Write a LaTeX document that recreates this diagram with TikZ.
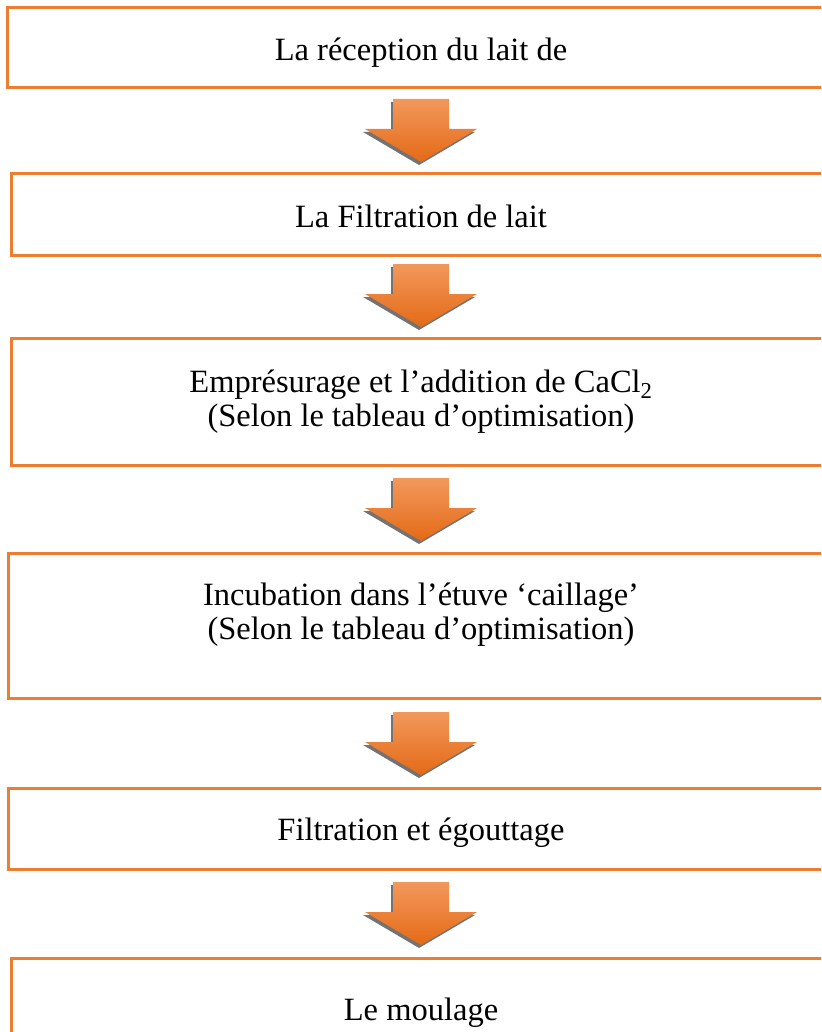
\documentclass[tikz,border=0pt]{standalone}
\usepackage{fontspec}
\setmainfont{Liberation Serif}
\definecolor{boxorange}{HTML}{ED7D31}
\definecolor{arrtop}{RGB}{242,152,92}
\definecolor{arrbot}{RGB}{228,106,22}
\definecolor{arrshadow}{RGB}{90,90,90}
\usetikzlibrary{calc}
\tikzset{
  stepbox/.style={draw=boxorange, line width=3pt, fill=white},
  steptext/.style={anchor=base, inner sep=0pt, font=\fontsize{32.5}{37}\selectfont},
}
\newcommand{\flowarrow}[1]{%
  \fill[arrshadow, opacity=0.85] ($(#1)+(-2,3)$) +(-28,0) -- +(28,0) -- +(28,30) -- +(56,30) -- +(0,63) -- +(-56,30) -- +(-28,30) -- cycle;
  \shade[top color=arrtop, bottom color=arrbot] (#1) +(-28,0) -- +(28,0) -- +(28,30) -- +(56,30) -- +(0,63) -- +(-56,30) -- +(-28,30) -- cycle;
}
\begin{document}
\begin{tikzpicture}[x=1pt,y=-1pt]
\useasboundingbox (0,0) rectangle (821,1032);
\clip (0,0) rectangle (821,1032);
% boxes
\draw[stepbox] (7,8) rectangle (840,88);
\draw[stepbox] (11,174) rectangle (840,255);
\draw[stepbox] (11,338) rectangle (840,465);
\draw[stepbox] (8,553) rectangle (840,698);
\draw[stepbox] (8,788) rectangle (840,869);
\draw[stepbox] (11,958) rectangle (840,1060);
% texts
\node[steptext] (t1) at (421,61) {La réception du lait de};
\node[steptext] (t2) at (421,227) {La Filtration de lait};
\node[steptext] (t3a) at (421,392) {Emprésurage et l’addition de CaCl\textsubscript{2}};
\node[steptext] (t3b) at (421,426) {(Selon le tableau d’optimisation)};
\node[steptext] (t4a) at (421,605) {Incubation dans l’étuve ‘caillage’};
\node[steptext] (t4b) at (421,639) {(Selon le tableau d’optimisation)};
\node[steptext] (t5) at (421,840) {Filtration et égouttage};
\node[steptext] (t6) at (421,1020) {Le moulage};
% arrows
\coordinate (a1) at (421,99);
\coordinate (a2) at (421,264);
\coordinate (a3) at (421,478);
\coordinate (a4) at (421,712);
\coordinate (a5) at (421,882);
\flowarrow{a1}
\flowarrow{a2}
\flowarrow{a3}
\flowarrow{a4}
\flowarrow{a5}
\end{tikzpicture}
\end{document}
